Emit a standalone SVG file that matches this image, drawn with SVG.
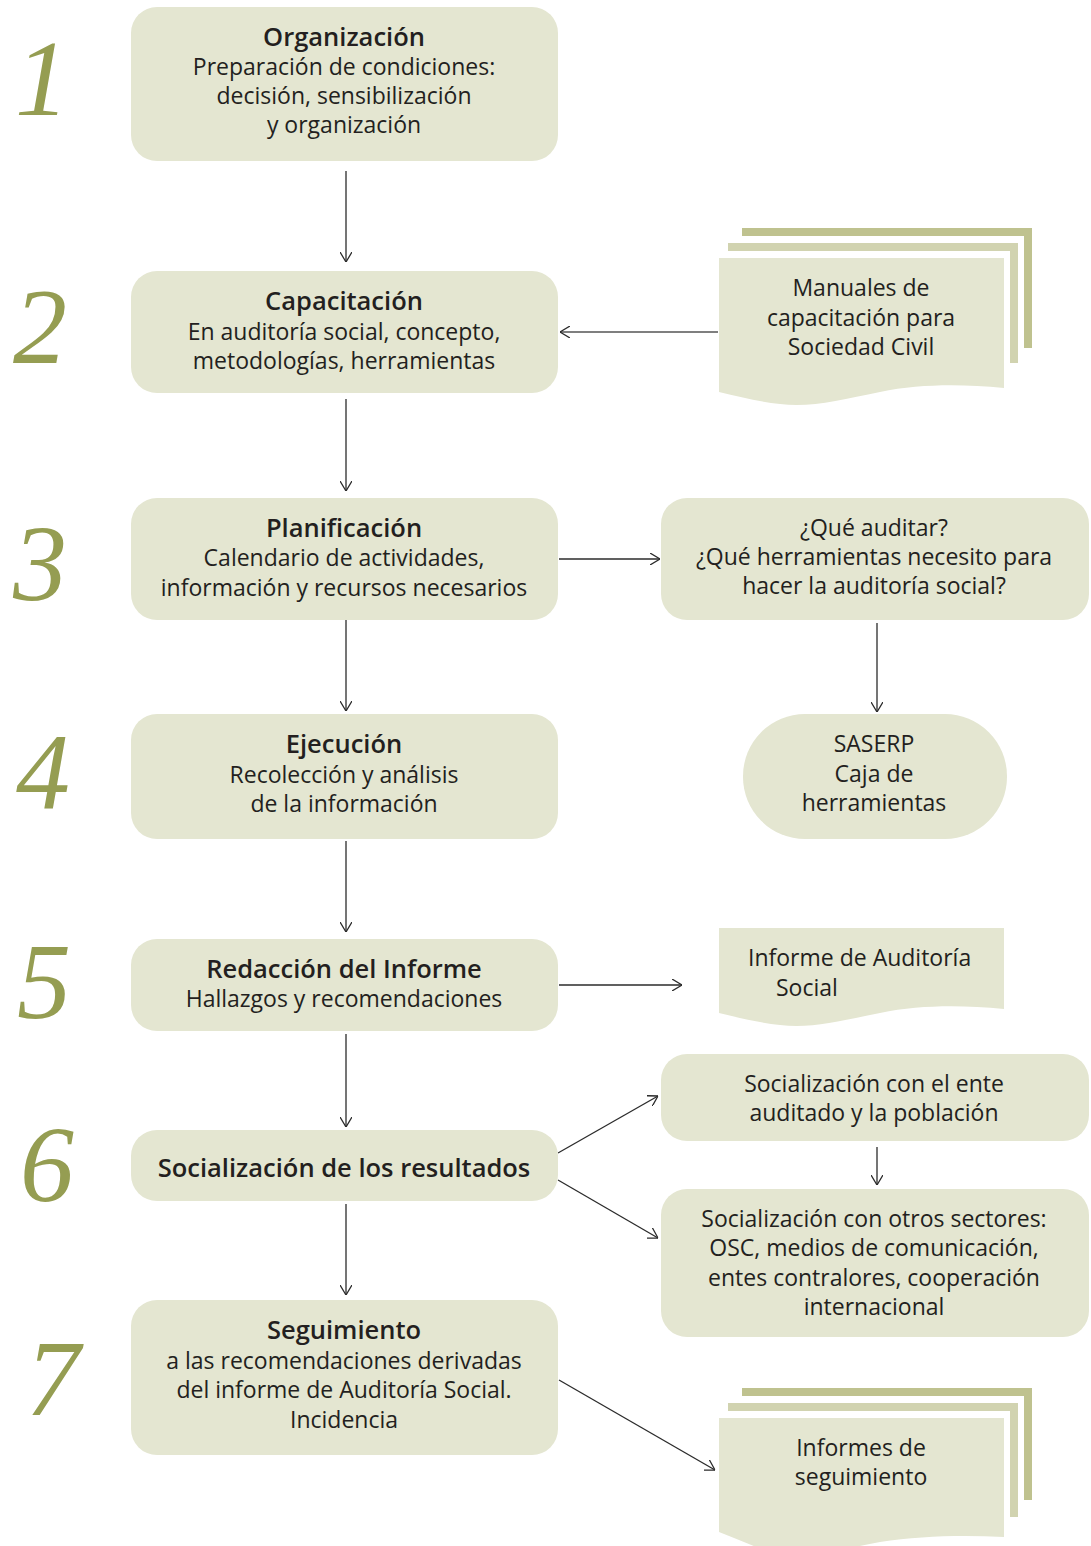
<svg xmlns="http://www.w3.org/2000/svg" width="1091" height="1546" viewBox="0 0 1091 1546">
<defs>
<style>
.box{fill:#e4e6d1}
.p2{fill:#d1d3b0}
.p3{fill:#bfc28f}
.num{font-family:"Liberation Serif",serif;font-style:italic;font-size:108px;fill:#959d52;text-anchor:middle}
.t{font-family:"Open Sans","Liberation Sans",sans-serif;font-size:23px;fill:#231f20;text-anchor:middle}
.b{font-weight:600;font-size:25.5px}
.l{text-anchor:start}
.c{fill:none;stroke:#2b2b2b;stroke-width:1.3}
</style>
<marker id="ah" viewBox="0 0 10 12" refX="10" refY="6" markerWidth="10" markerHeight="12" markerUnits="userSpaceOnUse" orient="auto">
<path d="M0,0 L10,6 L0,12" fill="none" stroke="#2b2b2b" stroke-width="1.3"/>
</marker>
</defs>
<rect width="1091" height="1546" fill="#ffffff"/>

<g id="numbers">
<text class="num" x="42" y="115">1</text>
<text class="num" x="40" y="363">2</text>
<text class="num" x="40" y="600">3</text>
<text class="num" x="43" y="808">4</text>
<text class="num" x="44" y="1018">5</text>
<text class="num" x="47" y="1201">6</text>
<text class="num" x="53" y="1415">7</text>
</g>

<g id="connectors">
<line class="c" x1="346" y1="171" x2="346" y2="262" marker-end="url(#ah)"/>
<line class="c" x1="346" y1="399" x2="346" y2="491" marker-end="url(#ah)"/>
<line class="c" x1="346" y1="620" x2="346" y2="711" marker-end="url(#ah)"/>
<line class="c" x1="346" y1="841" x2="346" y2="932" marker-end="url(#ah)"/>
<line class="c" x1="346" y1="1034" x2="346" y2="1127" marker-end="url(#ah)"/>
<line class="c" x1="346" y1="1204" x2="346" y2="1295" marker-end="url(#ah)"/>
<line class="c" x1="718" y1="332" x2="560" y2="332" marker-end="url(#ah)" style="stroke:#555;stroke-width:1.6"/>
<line class="c" x1="559" y1="559" x2="660" y2="559" marker-end="url(#ah)"/>
<line class="c" x1="877" y1="623" x2="877" y2="712" marker-end="url(#ah)"/>
<line class="c" x1="559" y1="985" x2="682" y2="985" marker-end="url(#ah)"/>
<line class="c" x1="558" y1="1153" x2="658" y2="1096" marker-end="url(#ah)"/>
<line class="c" x1="558" y1="1180" x2="658" y2="1238" marker-end="url(#ah)"/>
<line class="c" x1="877" y1="1147" x2="877" y2="1185" marker-end="url(#ah)"/>
<line class="c" x1="559" y1="1380" x2="715" y2="1470" marker-end="url(#ah)"/>
</g>

<g id="n1">
<rect class="box" x="131" y="7" width="427" height="154" rx="26"/>
<text class="t b" x="344" y="46">Organización</text>
<text class="t" x="344" y="75">Preparación de condiciones:</text>
<text class="t" x="344" y="104">decisión, sensibilización</text>
<text class="t" x="344" y="133">y organización</text>
</g>
<g id="n2">
<rect class="box" x="131" y="271" width="427" height="122" rx="26"/>
<text class="t b" x="344" y="310">Capacitación</text>
<text class="t" x="344" y="340">En auditoría social, concepto,</text>
<text class="t" x="344" y="369">metodologías, herramientas</text>
</g>
<g id="n3">
<rect class="box" x="131" y="498" width="427" height="122" rx="26"/>
<text class="t b" x="344" y="537">Planificación</text>
<text class="t" x="344" y="566">Calendario de actividades,</text>
<text class="t" x="344" y="596">información y recursos necesarios</text>
</g>
<g id="n4">
<rect class="box" x="131" y="714" width="427" height="125" rx="26"/>
<text class="t b" x="344" y="753">Ejecución</text>
<text class="t" x="344" y="783">Recolección y análisis</text>
<text class="t" x="344" y="812">de la información</text>
</g>
<g id="n5">
<rect class="box" x="131" y="939" width="427" height="92" rx="26"/>
<text class="t b" x="344" y="978">Redacción del Informe</text>
<text class="t" x="344" y="1007">Hallazgos y recomendaciones</text>
</g>
<g id="n6">
<rect class="box" x="131" y="1130" width="427" height="71" rx="26"/>
<text class="t b" x="344" y="1177">Socialización de los resultados</text>
</g>
<g id="n7">
<rect class="box" x="131" y="1300" width="427" height="155" rx="26"/>
<text class="t b" x="344" y="1339">Seguimiento</text>
<text class="t" x="344" y="1369">a las recomendaciones derivadas</text>
<text class="t" x="344" y="1398">del informe de Auditoría Social.</text>
<text class="t" x="344" y="1428">Incidencia</text>
</g>

<g id="doc-manuales">
<path class="p3" d="M742,228 H1032 V348 H1024 V236 H742 Z"/>
<path class="p2" d="M728,243 H1018 V363 H1010 V251 H728 Z"/>
<path class="box" d="M719,258 H1004 V388 C960,384 920,384 880,392 C840,400 810,408 780,404 C760,402 740,397 719,392 Z"/>
<text class="t" x="861" y="296">Manuales de</text>
<text class="t" x="861" y="326">capacitación para</text>
<text class="t" x="861" y="355">Sociedad Civil</text>
</g>
<g id="n-que">
<rect class="box" x="661" y="498" width="428" height="122" rx="26"/>
<text class="t" x="874" y="536">¿Qué auditar?</text>
<text class="t" x="874" y="565">¿Qué herramientas necesito para</text>
<text class="t" x="874" y="594">hacer la auditoría social?</text>
</g>
<g id="n-saserp">
<rect class="box" x="743" y="714" width="264" height="125" rx="62"/>
<text class="t" x="874" y="752">SASERP</text>
<text class="t" x="874" y="782">Caja de</text>
<text class="t" x="874" y="811">herramientas</text>
</g>
<g id="doc-informe">
<path class="box" d="M719,928 H1004 V1009 C960,1005 920,1005 880,1013 C840,1021 810,1029 780,1025 C760,1023 740,1018 719,1013 Z"/>
<text class="t l" x="748" y="966">Informe de Auditoría</text>
<text class="t l" x="776" y="996">Social</text>
</g>
<g id="n-soc1">
<rect class="box" x="661" y="1054" width="428" height="87" rx="26"/>
<text class="t" x="874" y="1092">Socialización con el ente</text>
<text class="t" x="874" y="1121">auditado y la población</text>
</g>
<g id="n-soc2">
<rect class="box" x="661" y="1189" width="428" height="148" rx="26"/>
<text class="t" x="874" y="1227">Socialización con otros sectores:</text>
<text class="t" x="874" y="1256">OSC, medios de comunicación,</text>
<text class="t" x="874" y="1286">entes contralores, cooperación</text>
<text class="t" x="874" y="1315">internacional</text>
</g>
<g id="doc-seguimiento">
<path class="p3" d="M742,1388 H1032 V1500 H1024 V1396 H742 Z"/>
<path class="p2" d="M728,1403 H1018 V1517 H1010 V1411 H728 Z"/>
<path class="box" d="M719,1418 H1004 V1537 C960,1535 920,1536 880,1542 C840,1550 810,1556 780,1554 C760,1550 740,1540 719,1532 Z"/>
<text class="t" x="861" y="1456">Informes de</text>
<text class="t" x="861" y="1485">seguimiento</text>
</g>
</svg>
